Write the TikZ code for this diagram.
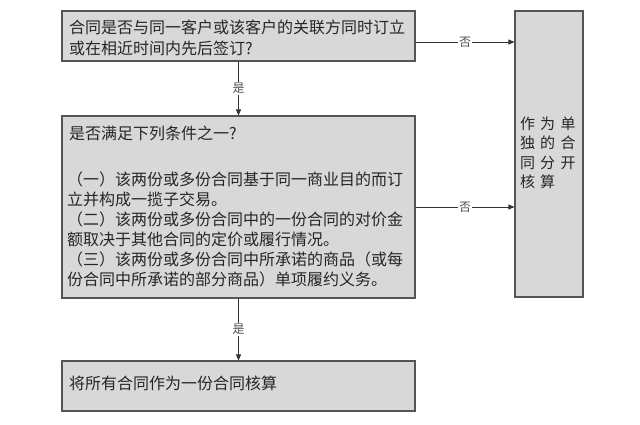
\documentclass[tikz,border=0pt]{standalone}
\usepackage{fontspec}
\setmainfont{Noto Sans CJK SC}
\usetikzlibrary{arrows.meta,positioning}
\definecolor{boxfill}{HTML}{D8D8D8}
\definecolor{boxline}{HTML}{555555}
\definecolor{txt}{HTML}{262626}
\begin{document}
\begin{tikzpicture}[x=1pt,y=-1pt,
  box/.style={draw=boxline,line width=1.1pt,fill=boxfill,inner sep=0pt},
  conn/.style={draw=black!80,line width=0.7pt,-{Triangle[length=6pt,width=5pt]}},
  lab/.style={fill=white,inner sep=1pt,font=\fontsize{12}{13}\selectfont,text=txt!80},
  bodytext/.style={text=txt,align=left,inner sep=0pt}]
\useasboundingbox[fill=white] (0,0) rectangle (640,424);
% boxes
\node[box,minimum width=353pt,minimum height=50pt] (q1) at (238.5,36) {};
\node[box,minimum width=353pt,minimum height=182pt] (q2) at (238.5,207) {};
\node[box,minimum width=353pt,minimum height=50pt] (res) at (238.5,386) {};
\node[box,minimum width=68pt,minimum height=286pt] (sep) at (549,154) {};
% texts
\node[bodytext,anchor=west,font=\fontsize{16}{20.5}\selectfont] (t1) at (69,38)
 {合同是否与同一客户或该客户的关联方同时订立\\或在相近时间内先后签订?};
\node[bodytext,anchor=west,font=\fontsize{16}{20}\selectfont] (t2a) at (69,133) {是否满足下列条件之一?};
\node[bodytext,anchor=north west,font=\fontsize{16}{20}\selectfont] (t2b) at (67,172)
 {（一）该两份或多份合同基于同一商业目的而订\\立并构成一揽子交易。\\（二）该两份或多份合同中的一份合同的对价金\\额取决于其他合同的定价或履行情况。\\（三）该两份或多份合同中所承诺的商品（或每\\份合同中所承诺的部分商品）单项履约义务。};
\node[bodytext,anchor=west,font=\fontsize{16}{20}\selectfont] (t3) at (69,383) {将所有合同作为一份合同核算};
\node[bodytext,anchor=north west,font=\fontsize{15}{19.2}\selectfont] (t4) at (520,117)
 {作\hspace{5pt}为\hspace{5.5pt}单\\独\hspace{5pt}的\hspace{5.5pt}合\\同\hspace{5pt}分\hspace{5.5pt}开\\核\hspace{5pt}算};
% connectors
\draw[conn] ([yshift=-6pt]q1.east) -- node[lab] {否} ([yshift=-6pt]q1.east -| sep.west);
\draw[conn] (q2.east) -- node[lab] {否} (q2.east -| sep.west);
\draw[conn] (q1.south) -- node[lab] {是} (q2.north);
\draw[conn] (q2.south) -- node[lab] {是} (res.north);
\end{tikzpicture}
\end{document}
